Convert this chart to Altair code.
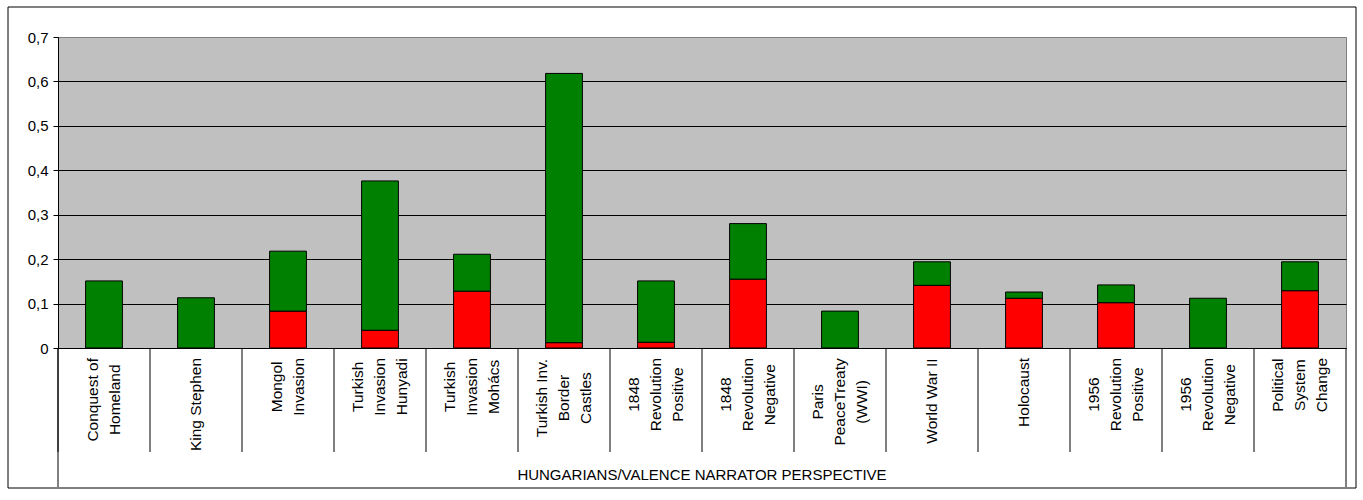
import altair as alt
import pandas as pd

# ---------------- data ----------------
CATEGORIES = [
    "Conquest of\nHomeland",
    "King Stephen",
    "Mongol\nInvasion",
    "Turkish\nInvasion\nHunyadi",
    "Turkish\nInvasion\nMohács",
    "Turkish Inv.\nBorder\nCastles",
    "1848\nRevolution\nPositive",
    "1848\nRevolution\nNegative",
    "Paris\nPeaceTreaty\n(WWI)",
    "World War II",
    "Holocaust",
    "1956\nRevolution\nPositive",
    "1956\nRevolution\nNegative",
    "Political\nSystem\nChange",
]
RED = [0.0, 0.0, 0.083, 0.040, 0.128, 0.012, 0.013, 0.155, 0.0, 0.141, 0.112, 0.102, 0.0, 0.129]
GREEN = [0.151, 0.113, 0.135, 0.336, 0.083, 0.606, 0.138, 0.125, 0.083, 0.053, 0.014, 0.040, 0.112, 0.065]
Y_TICKS = [0, 0.1, 0.2, 0.3, 0.4, 0.5, 0.6, 0.7]
AXIS_TITLE = "HUNGARIANS/VALENCE NARRATOR PERSPECTIVE"

# ---------------- layout ----------------
W, H = 1288, 311
BAND = W / len(CATEGORIES)
FONT = "Liberation Sans"
LABEL_SIZE = 15.5
LINE_H = 22
LABEL_TOP = 321  # pixel (view coords) where the rotated label block starts
SEP_LEN = 104

# Arial/Liberation Sans advance widths (1/1000 em) for centring label lines in a block
ARIAL = {
    " ": 278, "(": 333, ")": 333, ".": 278, "/": 278,
    "0": 556, "1": 556, "2": 556, "4": 556, "5": 556, "6": 556, "8": 556, "9": 556,
    "A": 667, "B": 667, "C": 722, "D": 722, "E": 667, "G": 778, "H": 722, "I": 278,
    "K": 667, "L": 556, "M": 833, "N": 722, "O": 778, "P": 667, "R": 722, "S": 667,
    "T": 611, "V": 667, "W": 944, "Y": 667,
    "a": 556, "b": 556, "c": 500, "d": 556, "e": 556, "f": 278, "g": 556, "h": 556,
    "i": 222, "j": 222, "k": 500, "l": 222, "m": 833, "n": 556, "o": 556, "p": 556,
    "q": 556, "r": 333, "s": 500, "t": 278, "u": 556, "v": 500, "w": 722, "x": 500,
    "y": 500, "z": 500, "á": 556,
}


def text_width(s, size):
    return sum(ARIAL.get(ch, 556) for ch in s) / 1000.0 * size


rows = []
for c, r, g in zip(CATEGORIES, RED, GREEN):
    if r > 0:
        rows.append({"cat": c, "series": "red", "value": r, "ord": 0})
    rows.append({"cat": c, "series": "green", "value": g, "ord": 1})
bars_df = pd.DataFrame(rows)

lab_df = pd.DataFrame({
    "cat": CATEGORIES,
    "ly": [LABEL_TOP + max(text_width(l, LABEL_SIZE) for l in c.split("\n")) / 2 for c in CATEGORIES],
    "dx": [BAND / 2 - (len(c.split("\n")) - 1) * LINE_H / 2 for c in CATEGORIES],
})

xscale = alt.Scale(domain=CATEGORIES, paddingInner=0, paddingOuter=0)

xaxis = alt.Axis(
    labels=False, ticks=False, title=None, grid=False,
    domainColor="black", domainWidth=1,
)
yaxis = alt.Axis(
    values=Y_TICKS,
    labelExpr="datum.value == 0 ? '0' : replace(format(datum.value, '.1f'), '.', ',')",
    title=None,
    grid=True,
    gridColor={"condition": {"test": "datum.value >= 0.69", "value": "#808080"}, "value": "black"},
    gridWidth=1,
    tickSize=5, tickColor="black", domainColor="black",
    labelFont=FONT, labelFontSize=15, labelColor="black", labelPadding=5,
)

bars = alt.Chart(bars_df).mark_bar(
    width=alt.RelativeBandSize(0.4), stroke="black", strokeWidth=1
).encode(
    x=alt.X("cat:N", scale=xscale, axis=xaxis, sort=CATEGORIES),
    y=alt.Y("value:Q", stack="zero", scale=alt.Scale(domain=[0, 0.7], nice=False), axis=yaxis),
    color=alt.Color("series:N", scale=alt.Scale(domain=["red", "green"], range=["#FF0000", "#008000"]), legend=None),
    order=alt.Order("ord:Q"),
)

separators = alt.Chart(lab_df).mark_rule(color="black", strokeWidth=1).encode(
    x=alt.X("cat:N", scale=xscale, axis=None, sort=CATEGORIES, bandPosition=0),
    y=alt.value(H), y2=alt.value(H + SEP_LEN),
)

labels = alt.Chart(lab_df).mark_text(
    angle=270, align="center", baseline="middle", lineBreak="\n", lineHeight=LINE_H,
    font=FONT, fontSize=LABEL_SIZE, color="black",
).encode(
    x=alt.X("cat:N", scale=xscale, axis=None, sort=CATEGORIES),
    xOffset=alt.XOffset("dx:Q", scale=None),
    y=alt.Y("ly:Q", scale=None, axis=None),
    text="cat:N",
)

one = pd.DataFrame({"a": [0]})
edge_l = alt.Chart(one).mark_rule(color="black", strokeWidth=1).encode(
    x=alt.value(0), y=alt.value(H), y2=alt.value(450)
)
edge_r = alt.Chart(one).mark_rule(color="black", strokeWidth=1).encode(
    x=alt.value(W), y=alt.value(H), y2=alt.value(450)
)
frame = alt.Chart(one).mark_rect(fillOpacity=0, stroke="black", strokeWidth=1).encode(
    x=alt.value(-50), x2=alt.value(1298), y=alt.value(-30), y2=alt.value(451)
)
title = alt.Chart(pd.DataFrame({"t": [AXIS_TITLE]})).mark_text(
    font=FONT, fontSize=15, color="black", align="center", baseline="middle"
).encode(x=alt.value(W / 2), y=alt.value(438), text="t:N")

chart = alt.layer(bars, separators, labels, edge_l, edge_r, frame, title).resolve_scale(
    y="independent"
).properties(
    width=W, height=H,
    padding={"left": 58, "top": 37, "right": 17, "bottom": 152},
    autosize=alt.AutoSizeParams(type="none"),
    background="white",
).configure_view(fill="#C0C0C0", stroke="#808080", strokeWidth=1)

chart.save("out.html", embed_options={"renderer": "svg", "actions": False})
